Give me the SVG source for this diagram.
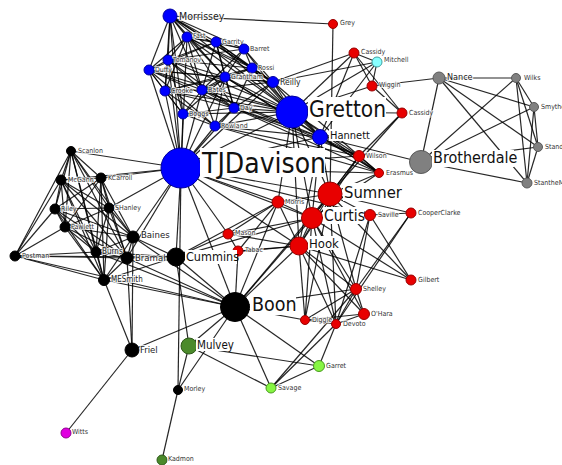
<svg xmlns="http://www.w3.org/2000/svg" width="562" height="465" viewBox="0 0 562 465">
<style>
.e line{stroke:#000;stroke-width:1.2;stroke-opacity:.85}
circle{stroke-width:1}
.b{fill:#0000ff;stroke:#0000a0}
.r{fill:#e80000;stroke:#900}
.g{fill:#808080;stroke:#5a5a5a}
.k{fill:#000;stroke:#000}
.dg{fill:#4b8a2b;stroke:#2f5a1a}
.lg{fill:#86f542;stroke:#4a9a20}
.cy{fill:#88ffff;stroke:#40a0a0}
.mg{fill:#e000e0;stroke:#900090}
text{font-family:'DejaVu Sans Condensed','DejaVu Sans',sans-serif;font-stretch:condensed}
.s{font-size:7px;fill:#333;stroke:#fff;stroke-width:2;stroke-opacity:.75;paint-order:stroke}
.m{fill:#222;stroke:#fff;stroke-width:2;stroke-opacity:.8;paint-order:stroke}
.L{fill:#111}
.bg{fill:#fff}
</style>
<g id="connectors" class="e">
<line x1="170" y1="16" x2="187" y2="37"/><line x1="170" y1="16" x2="216" y2="42"/><line x1="170" y1="16" x2="168" y2="60"/><line x1="170" y1="16" x2="149" y2="70"/><line x1="170" y1="16" x2="165" y2="91"/><line x1="170" y1="16" x2="202" y2="90"/><line x1="170" y1="16" x2="225" y2="77"/><line x1="170" y1="16" x2="273" y2="82"/><line x1="170" y1="16" x2="252" y2="68"/><line x1="170" y1="16" x2="244" y2="49"/><line x1="170" y1="16" x2="292" y2="112"/><line x1="170" y1="16" x2="181" y2="168"/><line x1="170" y1="16" x2="333" y2="24"/><line x1="170" y1="16" x2="183" y2="114"/>
<line x1="187" y1="37" x2="216" y2="42"/><line x1="187" y1="37" x2="244" y2="49"/><line x1="187" y1="37" x2="168" y2="60"/><line x1="187" y1="37" x2="149" y2="70"/><line x1="187" y1="37" x2="252" y2="68"/><line x1="187" y1="37" x2="225" y2="77"/><line x1="187" y1="37" x2="273" y2="82"/><line x1="187" y1="37" x2="202" y2="90"/><line x1="187" y1="37" x2="234" y2="108"/><line x1="187" y1="37" x2="292" y2="112"/><line x1="187" y1="37" x2="181" y2="168"/><line x1="187" y1="37" x2="165" y2="91"/>
<line x1="216" y1="42" x2="244" y2="49"/><line x1="216" y1="42" x2="252" y2="68"/><line x1="216" y1="42" x2="225" y2="77"/><line x1="216" y1="42" x2="273" y2="82"/><line x1="216" y1="42" x2="168" y2="60"/><line x1="216" y1="42" x2="202" y2="90"/><line x1="216" y1="42" x2="149" y2="70"/><line x1="216" y1="42" x2="292" y2="112"/><line x1="216" y1="42" x2="234" y2="108"/>
<line x1="244" y1="49" x2="252" y2="68"/><line x1="244" y1="49" x2="273" y2="82"/><line x1="244" y1="49" x2="225" y2="77"/><line x1="244" y1="49" x2="292" y2="112"/><line x1="244" y1="49" x2="202" y2="90"/><line x1="244" y1="49" x2="168" y2="60"/>
<line x1="168" y1="60" x2="149" y2="70"/><line x1="168" y1="60" x2="165" y2="91"/><line x1="168" y1="60" x2="202" y2="90"/><line x1="168" y1="60" x2="225" y2="77"/><line x1="168" y1="60" x2="252" y2="68"/><line x1="168" y1="60" x2="234" y2="108"/><line x1="168" y1="60" x2="292" y2="112"/><line x1="168" y1="60" x2="181" y2="168"/><line x1="168" y1="60" x2="183" y2="114"/>
<line x1="149" y1="70" x2="165" y2="91"/><line x1="149" y1="70" x2="202" y2="90"/><line x1="149" y1="70" x2="225" y2="77"/><line x1="149" y1="70" x2="183" y2="114"/><line x1="149" y1="70" x2="215" y2="126"/><line x1="149" y1="70" x2="181" y2="168"/><line x1="149" y1="70" x2="292" y2="112"/><line x1="149" y1="70" x2="234" y2="108"/><line x1="149" y1="70" x2="273" y2="82"/>
<line x1="252" y1="68" x2="273" y2="82"/><line x1="252" y1="68" x2="225" y2="77"/><line x1="252" y1="68" x2="292" y2="112"/><line x1="252" y1="68" x2="202" y2="90"/><line x1="252" y1="68" x2="234" y2="108"/><line x1="252" y1="68" x2="165" y2="91"/>
<line x1="225" y1="77" x2="273" y2="82"/><line x1="225" y1="77" x2="202" y2="90"/><line x1="225" y1="77" x2="234" y2="108"/><line x1="225" y1="77" x2="292" y2="112"/><line x1="225" y1="77" x2="181" y2="168"/><line x1="225" y1="77" x2="165" y2="91"/><line x1="225" y1="77" x2="183" y2="114"/><line x1="225" y1="77" x2="215" y2="126"/>
<line x1="273" y1="82" x2="292" y2="112"/><line x1="273" y1="82" x2="234" y2="108"/><line x1="273" y1="82" x2="202" y2="90"/><line x1="273" y1="82" x2="377" y2="62"/><line x1="273" y1="82" x2="181" y2="168"/>
<line x1="165" y1="91" x2="202" y2="90"/><line x1="165" y1="91" x2="183" y2="114"/><line x1="165" y1="91" x2="215" y2="126"/><line x1="165" y1="91" x2="234" y2="108"/><line x1="165" y1="91" x2="181" y2="168"/><line x1="165" y1="91" x2="292" y2="112"/>
<line x1="202" y1="90" x2="234" y2="108"/><line x1="202" y1="90" x2="183" y2="114"/><line x1="202" y1="90" x2="215" y2="126"/><line x1="202" y1="90" x2="292" y2="112"/><line x1="202" y1="90" x2="181" y2="168"/>
<line x1="234" y1="108" x2="183" y2="114"/><line x1="234" y1="108" x2="215" y2="126"/><line x1="234" y1="108" x2="292" y2="112"/><line x1="234" y1="108" x2="181" y2="168"/><line x1="234" y1="108" x2="320" y2="137"/>
<line x1="183" y1="114" x2="215" y2="126"/><line x1="183" y1="114" x2="181" y2="168"/><line x1="183" y1="114" x2="292" y2="112"/>
<line x1="215" y1="126" x2="292" y2="112"/><line x1="215" y1="126" x2="181" y2="168"/><line x1="215" y1="126" x2="320" y2="137"/>
<line x1="292" y1="112" x2="181" y2="168"/><line x1="292" y1="112" x2="320" y2="137"/><line x1="181" y1="168" x2="320" y2="137"/>
<line x1="252" y1="68" x2="320" y2="137"/><line x1="273" y1="82" x2="320" y2="137"/><line x1="225" y1="77" x2="320" y2="137"/><line x1="202" y1="90" x2="320" y2="137"/>
<line x1="234" y1="108" x2="359" y2="156"/><line x1="215" y1="126" x2="379" y2="173"/><line x1="202" y1="90" x2="359" y2="156"/><line x1="273" y1="82" x2="379" y2="173"/><line x1="225" y1="77" x2="379" y2="173"/><line x1="234" y1="108" x2="379" y2="173"/><line x1="215" y1="126" x2="359" y2="156"/>
<line x1="292" y1="112" x2="330" y2="194"/><line x1="292" y1="112" x2="312" y2="218"/><line x1="292" y1="112" x2="359" y2="156"/><line x1="292" y1="112" x2="379" y2="173"/><line x1="292" y1="112" x2="299" y2="246"/><line x1="292" y1="112" x2="354" y2="53"/><line x1="292" y1="112" x2="377" y2="62"/><line x1="292" y1="112" x2="402" y2="113"/><line x1="292" y1="112" x2="372" y2="86"/><line x1="292" y1="112" x2="278" y2="202"/>
<line x1="320" y1="137" x2="330" y2="194"/><line x1="320" y1="137" x2="359" y2="156"/><line x1="320" y1="137" x2="379" y2="173"/><line x1="320" y1="137" x2="312" y2="218"/><line x1="320" y1="137" x2="299" y2="246"/><line x1="320" y1="137" x2="421" y2="162"/>
<line x1="181" y1="168" x2="330" y2="194"/><line x1="181" y1="168" x2="312" y2="218"/><line x1="181" y1="168" x2="299" y2="246"/><line x1="181" y1="168" x2="278" y2="202"/><line x1="181" y1="168" x2="359" y2="156"/><line x1="181" y1="168" x2="228" y2="234"/><line x1="181" y1="168" x2="379" y2="173"/><line x1="181" y1="168" x2="370" y2="215"/>
<line x1="354" y1="53" x2="377" y2="62"/><line x1="354" y1="53" x2="372" y2="86"/><line x1="354" y1="53" x2="273" y2="82"/><line x1="354" y1="53" x2="402" y2="113"/><line x1="377" y1="62" x2="372" y2="86"/><line x1="354" y1="53" x2="320" y2="137"/><line x1="377" y1="62" x2="320" y2="137"/>
<line x1="372" y1="86" x2="402" y2="113"/><line x1="372" y1="86" x2="439" y2="78"/><line x1="402" y1="113" x2="330" y2="194"/><line x1="333" y1="24" x2="330" y2="194"/>
<line x1="359" y1="156" x2="330" y2="194"/><line x1="359" y1="156" x2="379" y2="173"/><line x1="359" y1="156" x2="312" y2="218"/><line x1="379" y1="173" x2="330" y2="194"/><line x1="379" y1="173" x2="312" y2="218"/><line x1="359" y1="156" x2="299" y2="246"/><line x1="402" y1="113" x2="359" y2="156"/>
<line x1="439" y1="78" x2="516" y2="78"/><line x1="439" y1="78" x2="421" y2="162"/><line x1="439" y1="78" x2="534" y2="107"/><line x1="439" y1="78" x2="538" y2="147"/><line x1="439" y1="78" x2="527" y2="183"/><line x1="516" y1="78" x2="421" y2="162"/><line x1="516" y1="78" x2="534" y2="107"/><line x1="516" y1="78" x2="538" y2="147"/><line x1="516" y1="78" x2="527" y2="183"/><line x1="534" y1="107" x2="421" y2="162"/><line x1="534" y1="107" x2="538" y2="147"/><line x1="534" y1="107" x2="527" y2="183"/><line x1="538" y1="147" x2="527" y2="183"/><line x1="538" y1="147" x2="421" y2="162"/><line x1="421" y1="162" x2="527" y2="183"/>
<line x1="330" y1="194" x2="312" y2="218"/><line x1="330" y1="194" x2="299" y2="246"/><line x1="330" y1="194" x2="278" y2="202"/><line x1="330" y1="194" x2="370" y2="215"/><line x1="330" y1="194" x2="356" y2="289"/><line x1="330" y1="194" x2="336" y2="324"/><line x1="330" y1="194" x2="411" y2="280"/><line x1="330" y1="194" x2="305" y2="320"/><line x1="330" y1="194" x2="411" y2="213"/>
<line x1="312" y1="218" x2="299" y2="246"/><line x1="312" y1="218" x2="278" y2="202"/><line x1="312" y1="218" x2="228" y2="234"/><line x1="312" y1="218" x2="370" y2="215"/><line x1="312" y1="218" x2="356" y2="289"/><line x1="312" y1="218" x2="336" y2="324"/><line x1="312" y1="218" x2="305" y2="320"/><line x1="312" y1="218" x2="364" y2="314"/><line x1="312" y1="218" x2="411" y2="280"/>
<line x1="299" y1="246" x2="278" y2="202"/><line x1="299" y1="246" x2="305" y2="320"/><line x1="299" y1="246" x2="336" y2="324"/><line x1="299" y1="246" x2="356" y2="289"/><line x1="299" y1="246" x2="364" y2="314"/><line x1="299" y1="246" x2="411" y2="280"/><line x1="299" y1="246" x2="238" y2="251"/><line x1="299" y1="246" x2="228" y2="234"/>
<line x1="278" y1="202" x2="228" y2="234"/><line x1="278" y1="202" x2="238" y2="251"/><line x1="370" y1="215" x2="411" y2="213"/><line x1="370" y1="215" x2="411" y2="280"/><line x1="370" y1="215" x2="336" y2="324"/><line x1="370" y1="215" x2="356" y2="289"/><line x1="411" y1="213" x2="356" y2="289"/><line x1="411" y1="213" x2="336" y2="324"/>
<line x1="356" y1="289" x2="364" y2="314"/><line x1="356" y1="289" x2="336" y2="324"/><line x1="356" y1="289" x2="305" y2="320"/><line x1="364" y1="314" x2="336" y2="324"/><line x1="364" y1="314" x2="305" y2="320"/><line x1="305" y1="320" x2="336" y2="324"/><line x1="228" y1="234" x2="238" y2="251"/>
<line x1="71" y1="151" x2="61" y2="180"/><line x1="71" y1="151" x2="101" y2="178"/><line x1="71" y1="151" x2="55" y2="209"/><line x1="71" y1="151" x2="109" y2="208"/><line x1="71" y1="151" x2="65" y2="227"/><line x1="71" y1="151" x2="133" y2="237"/><line x1="71" y1="151" x2="15" y2="256"/><line x1="71" y1="151" x2="96" y2="252"/><line x1="71" y1="151" x2="127" y2="258"/><line x1="71" y1="151" x2="104" y2="280"/><line x1="71" y1="151" x2="181" y2="168"/>
<line x1="61" y1="180" x2="101" y2="178"/><line x1="61" y1="180" x2="55" y2="209"/><line x1="61" y1="180" x2="109" y2="208"/><line x1="61" y1="180" x2="65" y2="227"/><line x1="61" y1="180" x2="133" y2="237"/><line x1="61" y1="180" x2="15" y2="256"/><line x1="61" y1="180" x2="96" y2="252"/><line x1="61" y1="180" x2="127" y2="258"/><line x1="61" y1="180" x2="104" y2="280"/><line x1="61" y1="180" x2="181" y2="168"/>
<line x1="101" y1="178" x2="55" y2="209"/><line x1="101" y1="178" x2="109" y2="208"/><line x1="101" y1="178" x2="65" y2="227"/><line x1="101" y1="178" x2="133" y2="237"/><line x1="101" y1="178" x2="96" y2="252"/><line x1="101" y1="178" x2="127" y2="258"/><line x1="101" y1="178" x2="104" y2="280"/><line x1="101" y1="178" x2="181" y2="168"/>
<line x1="55" y1="209" x2="109" y2="208"/><line x1="55" y1="209" x2="65" y2="227"/><line x1="55" y1="209" x2="133" y2="237"/><line x1="55" y1="209" x2="15" y2="256"/><line x1="55" y1="209" x2="96" y2="252"/><line x1="55" y1="209" x2="127" y2="258"/><line x1="55" y1="209" x2="104" y2="280"/>
<line x1="109" y1="208" x2="65" y2="227"/><line x1="109" y1="208" x2="133" y2="237"/><line x1="109" y1="208" x2="96" y2="252"/><line x1="109" y1="208" x2="127" y2="258"/><line x1="109" y1="208" x2="104" y2="280"/><line x1="109" y1="208" x2="181" y2="168"/>
<line x1="65" y1="227" x2="133" y2="237"/><line x1="65" y1="227" x2="15" y2="256"/><line x1="65" y1="227" x2="96" y2="252"/><line x1="65" y1="227" x2="127" y2="258"/><line x1="65" y1="227" x2="104" y2="280"/>
<line x1="133" y1="237" x2="96" y2="252"/><line x1="133" y1="237" x2="127" y2="258"/><line x1="133" y1="237" x2="104" y2="280"/><line x1="133" y1="237" x2="176" y2="257"/><line x1="133" y1="237" x2="181" y2="168"/><line x1="133" y1="237" x2="235" y2="307"/><line x1="133" y1="237" x2="132" y2="350"/>
<line x1="15" y1="256" x2="96" y2="252"/><line x1="15" y1="256" x2="127" y2="258"/><line x1="15" y1="256" x2="104" y2="280"/><line x1="15" y1="256" x2="176" y2="257"/><line x1="15" y1="256" x2="235" y2="307"/>
<line x1="96" y1="252" x2="127" y2="258"/><line x1="96" y1="252" x2="104" y2="280"/><line x1="96" y1="252" x2="176" y2="257"/><line x1="96" y1="252" x2="235" y2="307"/>
<line x1="127" y1="258" x2="104" y2="280"/><line x1="127" y1="258" x2="176" y2="257"/><line x1="127" y1="258" x2="235" y2="307"/><line x1="127" y1="258" x2="132" y2="350"/><line x1="127" y1="258" x2="181" y2="168"/>
<line x1="104" y1="280" x2="132" y2="350"/><line x1="104" y1="280" x2="235" y2="307"/><line x1="104" y1="280" x2="176" y2="257"/>
<line x1="176" y1="257" x2="181" y2="168"/><line x1="176" y1="257" x2="235" y2="307"/><line x1="176" y1="257" x2="299" y2="246"/><line x1="176" y1="257" x2="312" y2="218"/><line x1="176" y1="257" x2="228" y2="234"/><line x1="176" y1="257" x2="278" y2="202"/><line x1="176" y1="257" x2="189" y2="346"/>
<line x1="235" y1="307" x2="181" y2="168"/><line x1="235" y1="307" x2="299" y2="246"/><line x1="235" y1="307" x2="312" y2="218"/><line x1="235" y1="307" x2="330" y2="194"/><line x1="235" y1="307" x2="278" y2="202"/><line x1="235" y1="307" x2="189" y2="346"/><line x1="235" y1="307" x2="271" y2="388"/><line x1="235" y1="307" x2="319" y2="366"/><line x1="235" y1="307" x2="132" y2="350"/><line x1="235" y1="307" x2="178" y2="390"/><line x1="235" y1="307" x2="305" y2="320"/><line x1="235" y1="307" x2="356" y2="289"/><line x1="235" y1="307" x2="238" y2="251"/>
<line x1="132" y1="350" x2="66" y2="433"/><line x1="178" y1="390" x2="162" y2="460"/><line x1="178" y1="390" x2="189" y2="346"/><line x1="178" y1="390" x2="181" y2="168"/>
<line x1="189" y1="346" x2="271" y2="388"/><line x1="189" y1="346" x2="319" y2="366"/><line x1="271" y1="388" x2="319" y2="366"/><line x1="271" y1="388" x2="336" y2="324"/><line x1="319" y1="366" x2="336" y2="324"/><line x1="271" y1="388" x2="356" y2="289"/>
</g>
<g id="n-morrissey"><circle class="b" cx="170" cy="16" r="7"/><text class="m" x="179" y="20" font-size="10.5">Morrissey</text></g>
<g id="n-fast"><circle class="b" cx="187" cy="37" r="5"/><text class="s" x="193" y="38">Fast</text></g>
<g id="n-garrity"><circle class="b" cx="216" cy="42" r="5"/><text class="s" x="222" y="44">Garrity</text></g>
<g id="n-barret"><circle class="b" cx="244" cy="49" r="5"/><text class="s" x="250" y="51">Barret</text></g>
<g id="n-tomanov"><circle class="b" cx="168" cy="60" r="5"/><text class="s" x="173" y="62">Tomanov</text></g>
<g id="n-duffy"><circle class="b" cx="149" cy="70" r="5"/><text class="s" x="155" y="72">Duffy</text></g>
<g id="n-rossi"><circle class="b" cx="252" cy="68" r="5"/><text class="s" x="258" y="70">Rossi</text></g>
<g id="n-grantham"><circle class="b" cx="225" cy="77" r="5"/><text class="s" x="231" y="79">Grantham</text></g>
<g id="n-reilly"><circle class="b" cx="273" cy="82" r="5.5"/><text class="m" x="280" y="85" font-size="8.5">Reilly</text></g>
<g id="n-crooke"><circle class="b" cx="165" cy="91" r="5"/><text class="s" x="171" y="93">Crooke</text></g>
<g id="n-bates"><circle class="b" cx="202" cy="90" r="5"/><text class="s" x="208" y="92">Bates</text></g>
<g id="n-day"><circle class="b" cx="234" cy="108" r="5"/><text class="s" x="240" y="110">Day</text></g>
<g id="n-boggs"><circle class="b" cx="183" cy="114" r="5"/><text class="s" x="189" y="116">Boggs</text></g>
<g id="n-rowland"><circle class="b" cx="215" cy="126" r="5"/><text class="s" x="221" y="128">Rowland</text></g>
<g id="n-gretton"><circle class="b" cx="292" cy="112" r="16"/><rect class="bg" x="308" y="97" width="78" height="24"/><text class="L" x="309" y="117" font-size="22.5">Gretton</text></g>
<g id="n-hannett"><circle class="b" cx="320" cy="137" r="7.5"/><rect class="bg" x="329" y="129" width="40" height="12"/><text class="L" x="330" y="139" font-size="11">Hannett</text></g>
<g id="n-tjdavison"><circle class="b" cx="181" cy="168" r="20"/><rect class="bg" x="200" y="148" width="125" height="29"/><text class="L" x="202" y="173" font-size="28">TJDavison</text></g>
<g id="n-grey"><circle class="r" cx="333" cy="24" r="4.5"/><text class="s" x="340" y="25">Grey</text></g>
<g id="n-cassidy1"><circle class="r" cx="354" cy="53" r="5"/><text class="s" x="361" y="54">Cassidy</text></g>
<g id="n-mitchell"><circle class="cy" cx="377" cy="62" r="5"/><text class="s" x="384" y="62">Mitchell</text></g>
<g id="n-wiggin"><circle class="r" cx="372" cy="86" r="5"/><text class="s" x="379" y="87">Wiggin</text></g>
<g id="n-cassidy2"><circle class="r" cx="402" cy="113" r="5"/><text class="s" x="409" y="115">Cassidy</text></g>
<g id="n-wilson"><circle class="r" cx="359" cy="156" r="5.5"/><text class="s" x="366" y="158">Wilson</text></g>
<g id="n-erasmus"><circle class="r" cx="379" cy="173" r="4.5"/><text class="s" x="386" y="175">Erasmus</text></g>
<g id="n-sumner"><circle class="r" cx="330" cy="194" r="12"/><rect class="bg" x="343" y="183" width="58" height="18"/><text class="L" x="344" y="198" font-size="16.5">Sumner</text></g>
<g id="n-morris"><circle class="r" cx="278" cy="202" r="6"/><text class="s" x="285" y="204" font-size="7.5">Morris</text></g>
<g id="n-curtis"><circle class="r" cx="312" cy="218" r="10.5"/><rect class="bg" x="323" y="207" width="41" height="17"/><text class="L" x="324" y="221" font-size="15.5">Curtis</text></g>
<g id="n-saville"><circle class="r" cx="370" cy="215" r="5.5"/><text class="s" x="378" y="217" font-size="7.5">Saville</text></g>
<g id="n-cooperclarke"><circle class="r" cx="411" cy="213" r="5"/><text class="s" x="418" y="215">CooperClarke</text></g>
<g id="n-mason"><circle class="r" cx="228" cy="234" r="5"/><text class="s" x="235" y="235">Mason</text></g>
<g id="n-tabac"><circle class="r" cx="238" cy="251" r="5"/><text class="s" x="245" y="252">Tabac</text></g>
<g id="n-hook"><circle class="r" cx="299" cy="246" r="9"/><rect class="bg" x="308" y="236" width="31" height="14"/><text class="L" x="309" y="248" font-size="13">Hook</text></g>
<g id="n-gilbert"><circle class="r" cx="411" cy="280" r="5"/><text class="s" x="418" y="282">Gilbert</text></g>
<g id="n-shelley"><circle class="r" cx="356" cy="289" r="5.5"/><text class="s" x="363" y="291">Shelley</text></g>
<g id="n-ohara"><circle class="r" cx="364" cy="314" r="5.5"/><text class="s" x="371" y="316" font-size="8">O'Hara</text></g>
<g id="n-diggle"><circle class="r" cx="305" cy="320" r="4.5"/><text class="s" x="312" y="322">Diggle</text></g>
<g id="n-devoto"><circle class="r" cx="336" cy="324" r="4.5"/><text class="s" x="343" y="326">Devoto</text></g>
<g id="n-nance"><circle class="g" cx="439" cy="78" r="6"/><text class="m" x="447" y="80" font-size="9">Nance</text></g>
<g id="n-wilks"><circle class="g" cx="516" cy="78" r="4.5"/><text class="s" x="524" y="80">Wilks</text></g>
<g id="n-smythe"><circle class="g" cx="534" cy="107" r="4.5"/><text class="s" x="541" y="109">Smythe</text></g>
<g id="n-standish"><circle class="g" cx="538" cy="147" r="4.5"/><text class="s" x="545" y="149">Standish</text></g>
<g id="n-stantheman"><circle class="g" cx="527" cy="183" r="5"/><text class="s" x="534" y="185">StantheMan</text></g>
<g id="n-brotherdale"><circle class="g" cx="421" cy="162" r="11.5"/><rect class="bg" x="432" y="150" width="82" height="17"/><text class="L" x="433" y="163" font-size="16">Brotherdale</text></g>
<g id="n-scanlon"><circle class="k" cx="71" cy="151" r="4.5"/><text class="s" x="78" y="153">Scanlon</text></g>
<g id="n-mcgann"><circle class="k" cx="61" cy="180" r="5"/><text class="s" x="68" y="182">McGann</text></g>
<g id="n-kcarroll"><circle class="k" cx="101" cy="178" r="5"/><text class="s" x="108" y="180">KCarroll</text></g>
<g id="n-riley"><circle class="k" cx="55" cy="209" r="5"/><text class="s" x="61" y="211">Riley</text></g>
<g id="n-shanley"><circle class="k" cx="109" cy="208" r="5"/><text class="s" x="115" y="210">SHanley</text></g>
<g id="n-pawlett"><circle class="k" cx="65" cy="227" r="5"/><text class="s" x="71" y="229">Pawlett</text></g>
<g id="n-baines"><circle class="k" cx="133" cy="237" r="6"/><text class="m" x="141" y="238" font-size="9.5">Baines</text></g>
<g id="n-postman"><circle class="k" cx="15" cy="256" r="5"/><text class="s" x="22" y="258">Postman</text></g>
<g id="n-burns"><circle class="k" cx="96" cy="252" r="5"/><text class="m" x="102" y="254" font-size="8">Burns</text></g>
<g id="n-bramah"><circle class="k" cx="127" cy="258" r="6"/><text class="m" x="135" y="261" font-size="9.5">Bramah</text></g>
<g id="n-mesmith"><circle class="k" cx="104" cy="280" r="5.5"/><text class="m" x="111" y="282" font-size="8">MESmith</text></g>
<g id="n-cummins"><circle class="k" cx="176" cy="257" r="9"/><rect class="bg" x="185" y="250" width="52" height="14"/><text class="L" x="186" y="261" font-size="12.5">Cummins</text></g>
<g id="n-boon"><circle class="k" cx="235" cy="307" r="14.5"/><rect class="bg" x="250" y="294" width="46" height="21"/><text class="L" x="252" y="311" font-size="19.5">Boon</text></g>
<g id="n-friel"><circle class="k" cx="132" cy="350" r="7"/><text class="m" x="140" y="353" font-size="9.5">Friel</text></g>
<g id="n-morley"><circle class="k" cx="178" cy="390" r="4.5"/><text class="s" x="184" y="391">Morley</text></g>
<g id="n-mulvey"><circle class="dg" cx="189" cy="346" r="8"/><rect class="bg" x="196" y="338" width="38" height="13"/><text class="L" x="197" y="349" font-size="11.5">Mulvey</text></g>
<g id="n-kadmon"><circle class="dg" cx="162" cy="460" r="5"/><text class="s" x="168" y="461">Kadmon</text></g>
<g id="n-garret"><circle class="lg" cx="319" cy="366" r="5.5"/><text class="s" x="326" y="368" font-size="8">Garret</text></g>
<g id="n-savage"><circle class="lg" cx="271" cy="388" r="5"/><text class="s" x="278" y="390">Savage</text></g>
<g id="n-witts"><circle class="mg" cx="66" cy="433" r="5"/><text class="s" x="72" y="434">Witts</text></g>
</svg>
